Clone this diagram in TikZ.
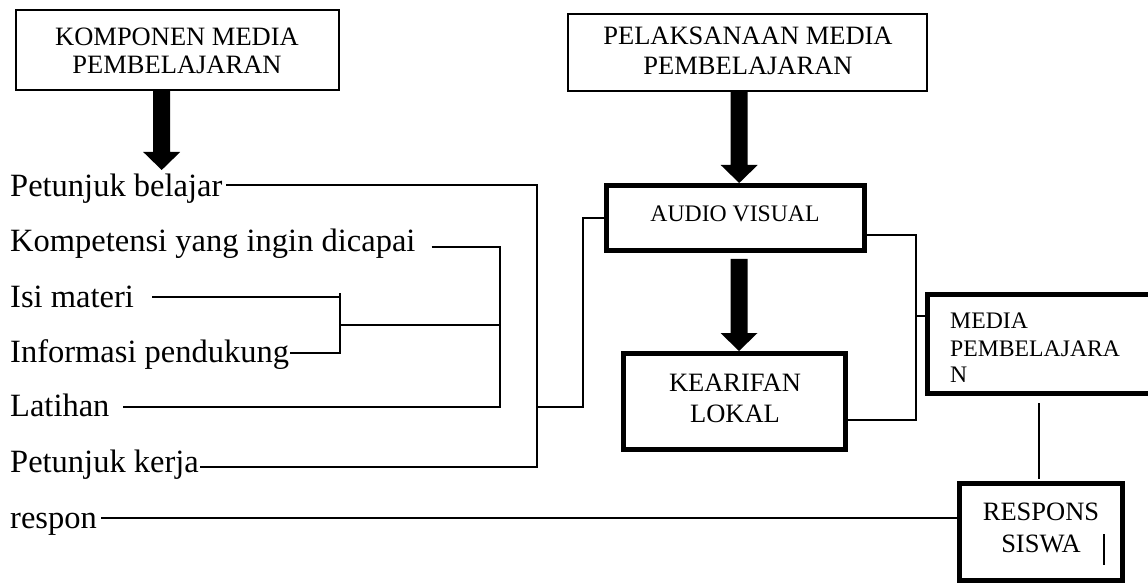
\documentclass[tikz,border=0pt]{standalone}
\usepackage{fontspec}
\newfontfamily\tnr{Liberation Serif}
\usetikzlibrary{calc}
\newcommand\blockarrow[2]{\fill let \p1=(#1), \p2=(#2) in
 (\x1-8.5pt,\y1) -- (\x1+8.5pt,\y1) -- (\x1+8.5pt,\y2+18pt) -- (\x1+18.5pt,\y2+18pt)
 -- (\x1,\y2) -- (\x1-18.5pt,\y2+18pt) -- (\x1-8.5pt,\y2+18pt) -- cycle;}
\begin{document}
\begin{tikzpicture}[x=1pt,y=-1pt,
  conn/.style={line width=1.5pt},
  thinbox/.style={draw, line width=2pt, inner sep=0pt, rectangle},
  thickbox/.style={draw, line width=5pt, inner sep=0pt, rectangle},
  lbl/.style={font=\tnr\fontsize{32.5}{38}\selectfont, inner sep=0pt, anchor=base west},
  bt/.style={font=\tnr\fontsize{26.5}{30}\selectfont, inner sep=0pt, anchor=base},
  bs/.style={font=\tnr\fontsize{23.7}{28}\selectfont, inner sep=0pt, anchor=base}]
\useasboundingbox (0,0) rectangle (1148,585);
\clip (0,0) rectangle (1148,585);
% boxes
\node[thinbox, minimum width=323pt, minimum height=80pt] (kom) at (177.5,50) {};
\node[thinbox, minimum width=359pt, minimum height=77pt] (pel) at (747.5,52.5) {};
\node[thickbox, minimum width=258pt, minimum height=65pt] (audio) at (735.5,218) {};
\node[thickbox, minimum width=222pt, minimum height=96pt] (kearifan) at (734.5,401.5) {};
\node[thickbox, minimum width=235pt, minimum height=99pt] (media) at (1045,344) {};
\node[thickbox, minimum width=163pt, minimum height=97pt] (respons) at (1041,532) {};
% box texts
\node[bt] (komA) at (177,46) {KOMPONEN MEDIA};
\node[bt] (komB) at (177,73.5) {PEMBELAJARAN};
\node[bt] (pelA) at (748,45) {PELAKSANAAN MEDIA};
\node[bt] (pelB) at (748,74.5) {PEMBELAJARAN};
\node[bs] (audA) at (735,222) {AUDIO VISUAL};
\node[bt] (kerA) at (735,391) {KEARIFAN};
\node[bt] (kerB) at (735,422) {LOKAL};
\node[bs, anchor=base west] (medA) at (950,328) {MEDIA};
\node[bs, anchor=base west] (medB) at (950,356) {PEMBELAJARA};
\node[bs, anchor=base west] (medC) at (950,382) {N};
\node[bt] (resA) at (1041,520) {RESPONS};
\node[bt] (resB) at (1041,552) {SISWA};
\draw[conn] (1104,534) -- (1104,565);
% left labels
\node[lbl] (pb) at (10,197) {Petunjuk belajar};
\node[lbl] (kp) at (10,252) {Kompetensi yang ingin dicapai};
\node[lbl] (is) at (10,307) {Isi materi};
\node[lbl] (inf) at (10,362) {Informasi pendukung};
\node[lbl] (lt) at (10,416) {Latihan};
\node[lbl] (pk) at (10,472) {Petunjuk kerja};
\node[lbl] (rs) at (10,528) {respon};
% junction coordinates
\coordinate (b1) at (537,185);
\coordinate (b2) at (537,467);
\coordinate (k1) at (500,247);
\coordinate (k2) at (500,407);
\coordinate (i0) at (340,293);
\coordinate (i1) at (340,297);
\coordinate (i2) at (340,353);
\coordinate (im) at (340,325);
\coordinate (km) at (500,325);
\coordinate (o1) at (537,407);
\coordinate (o2) at (583,407);
\coordinate (o3) at (583,218);
\coordinate (r1) at (916,235);
\coordinate (r2) at (916,420);
\coordinate (r3) at (916,316);
\coordinate (r5) at (600,518);
\coordinate (v1) at (1039,403);
\coordinate (v2) at (1039,479);
% left bracket connectors
\draw[conn] ($(pb.east |- b1)+(4,0)$) -- (b1) -- (b2) -- ($(pk.east |- b2)+(1,0)$);
\draw[conn] ($(kp.east |- k1)+(16,0)$) -- (k1) -- (k2) -- ($(lt.east |- k2)+(13,0)$);
\draw[conn] ($(is.east |- i1)+(18,0)$) -- (i1);
\draw[conn] (i0) -- (i2) -- ($(inf.east |- i2)+(1,0)$);
\draw[conn] (im) -- (km);
\draw[conn] (o1) -- (o2) -- (o3) -- (o3 -| audio.west);
% right connectors
\draw[conn] (r1 -| audio.east) -- (r1) -- (r2) -- (r2 -| kearifan.east);
\draw[conn] (r3) -- (r3 -| media.west);
\draw[conn] (v1) -- (v2);
\draw[conn] ($(rs.east |- r5)+(4,0)$) -- (r5 -| respons.west);
% block arrows
\coordinate (a1) at (161.7,170);
\coordinate (a2) at (739.2,0);
\coordinate (a3) at (739,0);
\blockarrow{a1 |- kom.south}{a1}
\blockarrow{a2 |- pel.south}{a2 |- audio.north}
\blockarrow{$(a3 |- audio.south)+(0,6)$}{a3 |- kearifan.north}
\end{tikzpicture}
\end{document}
